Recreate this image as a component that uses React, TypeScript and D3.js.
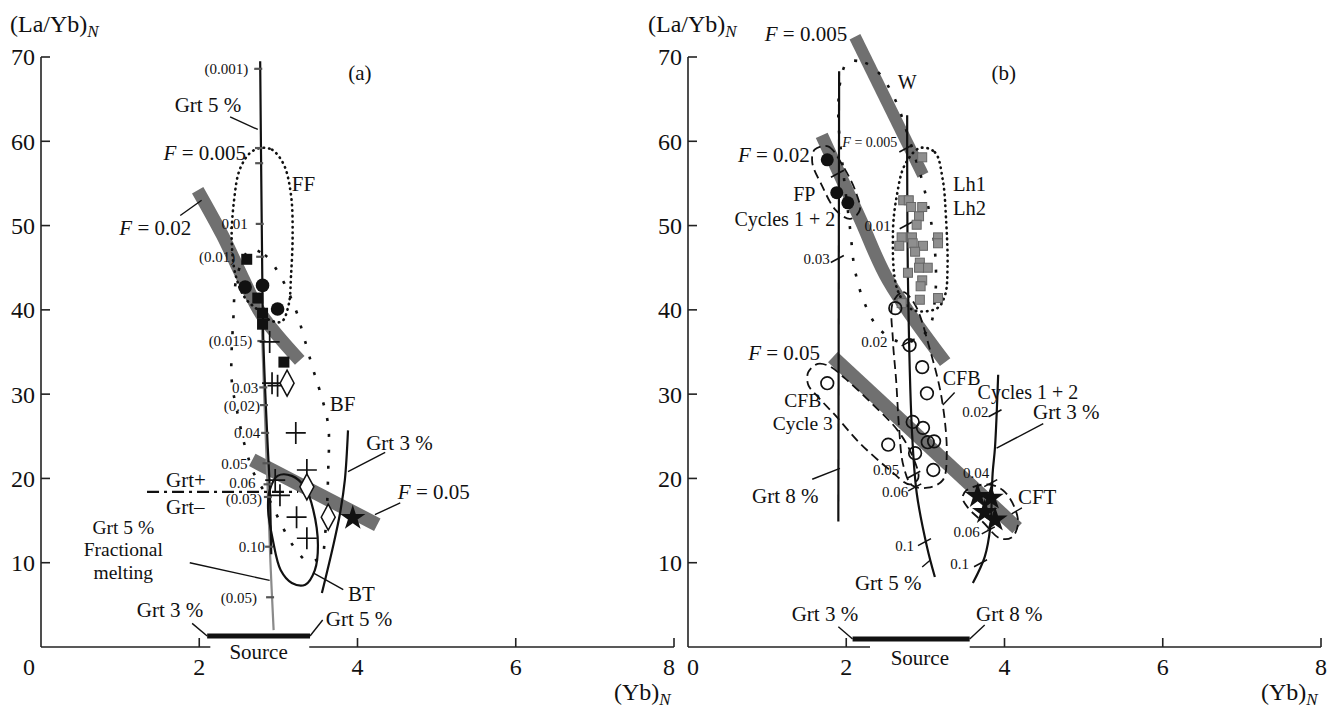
import React from 'react';
import * as d3 from 'd3';

type P = [number, number];
type Tick = { y: number; label: string; dx?: number; dy?: number; big?: boolean; italicF?: boolean; small?: boolean };
type Ann = { x: number; y: number; t: string; a?: 'start' | 'middle' | 'end'; s?: number; f?: boolean };

// ---------------- Panel (a) data ----------------
const aGrt5Batch: P[] = [[2.77, 69.5], [2.79, 50], [2.81, 36.4], [2.86, 24.9], [2.89, 19.0], [2.91, 11.0]];
const aGrt5Fractional: P[] = [[2.78, 41], [2.82, 30], [2.86, 20], [2.9, 10], [2.94, 2]];
const aGrt3: P[] = [[3.88, 25.7], [3.84, 19.8], [3.78, 15.9], [3.69, 11.9], [3.55, 6.4]];
const aBandF002: P[] = [[1.98, 54.2], [2.29, 48.9], [2.55, 43.8], [2.79, 39.4], [3.27, 34.0]];
const aBandF005: P[] = [[2.67, 22.2], [4.25, 14.5]];
const aGrtBoundary: P[] = [[1.34, 18.4], [3.25, 18.4]];
const aFF: P[] = [[2.77, 59.2], [2.92, 59.0], [3.07, 57.2], [3.16, 53.6], [3.18, 48.9], [3.16, 44.1], [3.13, 40.6], [3.04, 38.6], [2.89, 38.8], [2.74, 40.0], [2.58, 41.4], [2.46, 44.1], [2.41, 48.3], [2.44, 53.0], [2.51, 56.6], [2.64, 58.6]];
const aBF: P[] = [[2.64, 47.1], [2.83, 46.5], [3.02, 44.1], [3.22, 40.0], [3.31, 37.2], [3.44, 32.9], [3.52, 30.5], [3.63, 26.3], [3.63, 21.0], [3.59, 13.3], [3.54, 10.7], [3.37, 10.2], [3.21, 11.7], [3.06, 14.1], [2.89, 17.4], [2.7, 20.4], [2.59, 23.4], [2.48, 27.9], [2.41, 31.7], [2.43, 38.8], [2.48, 44.1]];
const aBT: P[] = [[2.89, 18.6], [2.99, 20.3], [3.17, 20.3], [3.34, 18.9], [3.44, 16.3], [3.5, 12.1], [3.46, 9.1], [3.34, 7.4], [3.17, 7.6], [3.03, 9.1], [2.93, 12.7], [2.87, 16.3]];
const aFilledCircles: P[] = [[2.58, 42.7], [2.8, 42.9], [2.99, 40.1]];
const aFilledSquares: P[] = [[2.6, 46.0], [2.74, 41.4], [2.8, 39.6], [2.8, 38.3], [3.07, 33.8]];
const aPlus: P[] = [[2.89, 36.2], [2.92, 31.3], [2.99, 31.0], [3.22, 25.4], [3.36, 21.0], [2.96, 19.8], [3.02, 18.0], [3.23, 15.4], [3.36, 12.9]];
const aDiamonds: P[] = [[3.11, 31.3], [3.36, 19.0], [3.63, 15.4]];
const aStars: P[] = [[3.94, 15.3]];
const aSource: P[] = [[2.1, 1.3], [3.4, 1.3]];
const aSourceGap: P = [2.14, 3.39];
const aBatchTicks: Tick[] = [
  { y: 68.6, label: '(0.001)', dx: -12 },
  { y: 59.2, label: 'F = 0.005', dx: -15, dy: 5, big: true, italicF: true },
  { y: 57.4, label: '' },
  { y: 50.2, label: '0.01', dx: -14 },
  { y: 46.3, label: '(0.01)', dx: -27 },
  { y: 36.3, label: '(0.015)', dx: -11 },
  { y: 30.8, label: '0.03', dx: -7 },
  { y: 28.7, label: '(0.02)', dx: -6, dy: 1 },
  { y: 25.4, label: '0.04', dx: -7 },
  { y: 21.8, label: '0.05', dx: -21 },
  { y: 19.3, label: '0.06', dx: -14, dy: -1.5 },
  { y: 17.8, label: '(0.03)', dx: -8, dy: 1.5 },
  { y: 11.9, label: '0.10', dx: -6 },
];
const aFracTicks: Tick[] = [{ y: 5.9, label: '(0.05)', dx: -15 }];
const aAnnotations: Ann[] = [
  { x: 4.03, y: 68.2, t: '(a)', a: 'middle' },
  { x: 2.11, y: 64.3, t: 'Grt 5 %', a: 'middle' },
  { x: 3.17, y: 55.0, t: 'FF' },
  { x: 0.99, y: 49.7, t: 'F = 0.02', f: true },
  { x: 3.65, y: 28.9, t: 'BF' },
  { x: 4.11, y: 24.2, t: 'Grt 3 %' },
  { x: 4.51, y: 18.4, t: 'F = 0.05', f: true },
  { x: 1.58, y: 19.9, t: 'Grt+' },
  { x: 1.58, y: 16.6, t: 'Grt–' },
  { x: 1.04, y: 14.2, t: 'Grt 5 %', a: 'middle', s: 19.5 },
  { x: 1.04, y: 11.55, t: 'Fractional', a: 'middle', s: 19.5 },
  { x: 1.04, y: 8.9, t: 'melting', a: 'middle', s: 19.5 },
  { x: 3.88, y: 6.3, t: 'BT' },
  { x: 1.63, y: 4.4, t: 'Grt 3 %', a: 'middle' },
  { x: 3.6, y: 3.4, t: 'Grt 5 %' },
  { x: 2.75, y: -0.6, t: 'Source', a: 'middle' },
];
const aLeaders: P[][] = [
  [[2.39, 62.9], [2.74, 61.4]],
  [[1.76, 51.2], [2.03, 53.0]],
  [[3.88, 20.8], [4.35, 23.1]],
  [[4.22, 15.7], [4.54, 17.1]],
  [[1.88, 10.0], [2.89, 7.9]],
  [[3.44, 8.8], [3.82, 6.8]],
  [[1.91, 2.8], [2.1, 1.3]],
  [[3.4, 1.3], [3.56, 3.2]],
];

// ---------------- Panel (b) data ----------------
const bGrt8: P[] = [[1.91, 68.3], [1.9, 14.9]];
const bGrt5: P[] = [[2.77, 63.1], [2.78, 43.5], [2.83, 25.7], [2.89, 18.3], [3.02, 11.9], [3.12, 8.3]];
const bGrt3: P[] = [[3.92, 32.3], [3.88, 23.7], [3.85, 20.6], [3.82, 14.2], [3.75, 10.7], [3.6, 7.6]];
const bBandF0005: P[] = [[2.11, 72.4], [2.97, 56.0]];
const bBandF002: P[] = [[1.69, 60.7], [2.17, 50.9], [2.53, 43.5], [3.25, 33.8]];
const bBandF005: P[] = [[1.83, 34.4], [4.16, 14.1]];
const bW: P[] = [[2.02, 69.4], [2.24, 69.3], [2.43, 67.9], [2.62, 64.9], [2.8, 60.1], [2.99, 54.2], [3.12, 47.1], [3.12, 41.2], [3.03, 37.6], [2.74, 36.1], [2.43, 37.6], [2.24, 40.6], [2.11, 44.7], [2.05, 49.5], [1.96, 56.6], [1.9, 62.9], [1.93, 67.3]];
const bLh: P[] = [[2.93, 59.2], [3.12, 58.7], [3.22, 55.4], [3.26, 51.0], [3.28, 45.1], [3.25, 41.8], [3.15, 40.2], [2.84, 40.0], [2.65, 42.3], [2.59, 49.1], [2.64, 53.6], [2.74, 57.2]];
const bFP: P[] = [[1.6, 59.0], [1.77, 59.4], [1.95, 57.2], [2.12, 54.0], [2.17, 51.8], [2.05, 50.8], [1.87, 51.8], [1.69, 54.8], [1.57, 57.5]];
const bCFBCycle3: P[] = [[1.52, 32.6], [1.64, 33.6], [1.79, 33.3], [1.98, 31.9], [2.3, 29.1], [2.65, 25.7], [2.83, 22.8], [2.91, 20.0], [2.8, 19.3], [2.55, 21.0], [2.17, 24.2], [1.86, 27.5], [1.64, 29.7], [1.52, 31.1]];
const bCFBCycles12: P[] = [[2.59, 40.9], [2.72, 42.1], [2.87, 40.6], [3.06, 35.2], [3.21, 29.3], [3.27, 22.8], [3.22, 19.8], [3.03, 18.9], [2.83, 19.2], [2.72, 21.6], [2.67, 25.7], [2.63, 31.7], [2.59, 36.4]];
const bCFT: P[] = [[3.52, 18.6], [3.78, 19.3], [3.98, 18.6], [4.13, 16.5], [4.17, 14.5], [4.09, 13.0], [3.94, 12.9], [3.73, 14.8], [3.54, 16.5], [3.47, 17.7]];
const bFilledCircles: P[] = [[1.76, 57.8], [1.88, 53.9], [2.02, 52.7]];
const bOpenCircles: P[] = [[2.62, 40.2], [2.8, 35.8], [2.96, 33.2], [3.02, 30.1], [2.84, 26.7], [2.97, 26.0], [3.03, 24.3], [3.11, 24.4], [2.87, 23.0], [3.1, 21.0], [2.53, 24.0], [1.76, 31.3]];
const bGreySquares: P[] = [[2.96, 58.1], [2.72, 53.0], [2.79, 53.0], [2.82, 52.2], [2.96, 52.2], [2.92, 51.1], [2.89, 50.1], [2.7, 48.6], [2.83, 48.6], [2.67, 47.6], [2.84, 47.9], [2.97, 47.6], [2.87, 46.9], [3.16, 48.6], [3.16, 47.9], [2.93, 45.6], [3.03, 45.0], [2.92, 45.0], [2.78, 44.4], [2.96, 43.5], [2.94, 42.8], [2.93, 41.2], [3.16, 41.4], [2.7, 40.8]];
const bStars: P[] = [[3.66, 17.9], [3.83, 17.7], [3.75, 16.0], [3.88, 15.1]];
const bSource: P[] = [[2.08, 0.95], [3.56, 0.95]];
const bSourceGap: P = [2.3, 3.56];
const bGrt8Ticks: Tick[] = [{ y: 56.2, label: '' }, { y: 46.1, label: '0.03', dx: -9 }];
const bGrt5Ticks: Tick[] = [
  { y: 59.2, label: 'F = 0.005', dx: -10, dy: -6, italicF: true, small: true },
  { y: 50.1, label: '0.01', dx: -17, dy: 1 },
  { y: 36.2, label: '0.02', dx: -22 },
  { y: 20.5, label: '0.05', dx: -16, dy: -4 },
  { y: 19.0, label: '0.06', dx: -8, dy: 5 },
  { y: 12.5, label: '0.1', dx: -12, dy: 4 },
];
const bGrt3Ticks: Tick[] = [
  { y: 27.8, label: '0.02', dx: -8, dy: -1 },
  { y: 19.5, label: '0.04', dx: -3, dy: -10 },
  { y: 13.9, label: '0.06', dx: -10, dy: 2 },
  { y: 10.0, label: '0.1', dx: -13, dy: 1 },
];
const bAnnotations: Ann[] = [
  { x: 0.97, y: 72.8, t: 'F = 0.005', f: true },
  { x: 3.99, y: 68.2, t: '(b)', a: 'middle' },
  { x: 2.65, y: 67.0, t: 'W', s: 20 },
  { x: 1.54, y: 58.4, t: 'F = 0.02', a: 'end', f: true },
  { x: 3.35, y: 54.9, t: 'Lh1', s: 20.5 },
  { x: 3.35, y: 52.1, t: 'Lh2', s: 20.5 },
  { x: 1.33, y: 53.7, t: 'FP', s: 20 },
  { x: 1.86, y: 50.8, t: 'Cycles 1 + 2', a: 'end', s: 20 },
  { x: 0.76, y: 34.9, t: 'F = 0.05', f: true },
  { x: 1.45, y: 29.3, t: 'CFB', a: 'middle', s: 19.5 },
  { x: 1.45, y: 26.6, t: 'Cycle 3', a: 'middle', s: 19.5 },
  { x: 3.22, y: 31.9, t: 'CFB', s: 20 },
  { x: 3.66, y: 30.3, t: 'Cycles 1 + 2', s: 20 },
  { x: 4.36, y: 27.9, t: 'Grt 3 %' },
  { x: 4.17, y: 17.8, t: 'CFT' },
  { x: 0.81, y: 18.0, t: 'Grt 8 %' },
  { x: 2.11, y: 7.6, t: 'Grt 5 %' },
  { x: 1.31, y: 4.0, t: 'Grt 3 %' },
  { x: 3.64, y: 4.0, t: 'Grt 8 %' },
  { x: 2.93, y: -1.3, t: 'Source', a: 'middle' },
];
const bLeaders: P[][] = [
  [[1.57, 19.9], [1.92, 21.2]],
  [[3.22, 28.7], [3.37, 30.2]],
  [[3.9, 23.6], [4.49, 26.5]],
  [[4.09, 15.8], [4.22, 16.5]],
  [[2.96, 9.5], [3.06, 10.3]],
  [[1.9, 2.4], [2.08, 0.95]],
  [[3.56, 0.95], [3.75, 2.6]],
];

const yTicks = [10, 20, 30, 40, 50, 60, 70];
const xTicks = [0, 2, 4, 6, 8];

// ---------------- rendering ----------------
const FONT = '"Liberation Serif", "Times New Roman", Times, serif';
const INK = '#111';
const BAND = '#707070';

const yS = d3.scaleLinear().domain([0, 70]).range([647, 57]);
const xA = d3.scaleLinear().domain([0, 8]).range([41, 674]);
const xB = d3.scaleLinear().domain([0, 8]).range([688, 1321]);

type S = d3.ScaleLinear<number, number>;

function xAt(curve: P[], yv: number): number {
  for (let i = 0; i < curve.length - 1; i++) {
    const [x0, y0] = curve[i];
    const [x1, y1] = curve[i + 1];
    if (yv >= Math.min(y0, y1) && yv <= Math.max(y0, y1)) {
      const t = (yv - y0) / (y1 - y0);
      return x0 + t * (x1 - x0);
    }
  }
  return curve[curve.length - 1][0];
}

function Txt({ x, y, t, a = 'start', s = 21, f = false, dy = 0 }: { x: number; y: number; t: string; a?: string; s?: number; f?: boolean; dy?: number }) {
  return (
    <text x={x} y={y + dy} dy="0.35em" textAnchor={a as any} fontSize={s} fontFamily={FONT} fill={INK}>
      {f ? (
        <>
          <tspan fontStyle="italic">F</tspan>
          {t.slice(1)}
        </>
      ) : (
        t
      )}
    </text>
  );
}

function Axes({ xs, zeroDx, eightDx, titleX }: { xs: S; zeroDx: number; eightDx: number; titleX: number }) {
  const x0 = xs(0);
  const y0 = yS(0);
  return (
    <g>
      <line x1={x0} x2={x0} y1={yS(70)} y2={y0} stroke="#222" strokeWidth={1.6} />
      <line x1={x0} x2={xs(8)} y1={y0} y2={y0} stroke="#222" strokeWidth={1.6} />
      {yTicks.map((v) => (
        <g key={'y' + v}>
          <line x1={x0} x2={x0 + 9} y1={yS(v)} y2={yS(v)} stroke="#222" strokeWidth={1.6} />
          <text x={x0 - 6} y={yS(v)} dy="0.35em" textAnchor="end" fontSize={24} fontFamily={FONT} fill={INK}>
            {v}
          </text>
        </g>
      ))}
      {xTicks.map((v) => (
        <g key={'x' + v}>
          {v > 0 && <line x1={xs(v)} x2={xs(v)} y1={y0} y2={y0 - 9} stroke="#222" strokeWidth={1.6} />}
          <text
            x={xs(v) + (v === 0 ? zeroDx : v === 8 ? eightDx : 0)}
            y={y0 + 20}
            dy="0.35em"
            textAnchor="middle"
            fontSize={24}
            fontFamily={FONT}
            fill={INK}
          >
            {v}
          </text>
        </g>
      ))}
      <text x={titleX} y={32} fontSize={24} fontFamily={FONT} fill={INK}>
        (La/Yb)
        <tspan fontStyle="italic" fontSize={17} dy={5}>N</tspan>
      </text>
      <text x={xs(8) - 60} y={700} fontSize={24} fontFamily={FONT} fill={INK}>
        (Yb)
        <tspan fontStyle="italic" fontSize={17} dy={5}>N</tspan>
      </text>
    </g>
  );
}

function Panel(props: {
  xs: S;
  bands: P[][];
  bandWidths: number[];
  solid: P[][];
  grey: P[][];
  dashDot: P[][];
  dense: P[][];
  sparse: P[][];
  dashed: P[][];
  closedSolid: P[][];
  ticks: { curve: P[]; list: Tick[]; slant: boolean }[];
  source: P[];
  gap: P;
  leaders: P[][];
  anns: Ann[];
  markers: React.ReactNode;
}) {
  const { xs } = props;
  const lin = d3.line<P>().x((d) => xs(d[0])).y((d) => yS(d[1]));
  const smooth = d3.line<P>().x((d) => xs(d[0])).y((d) => yS(d[1])).curve(d3.curveCatmullRom.alpha(0.5));
  const closed = d3.line<P>().x((d) => xs(d[0])).y((d) => yS(d[1])).curve(d3.curveCatmullRomClosed.alpha(0.5));
  const y0 = yS(0);
  return (
    <g>
      {props.bands.map((b, i) => (
        <path key={'band' + i} d={smooth(b) || ''} stroke={BAND} strokeWidth={props.bandWidths[i]} fill="none" strokeLinejoin="round" />
      ))}
      {props.grey.map((c, i) => (
        <path key={'grey' + i} d={smooth(c) || ''} stroke="#8a8a8a" strokeWidth={2.2} fill="none" />
      ))}
      {props.solid.map((c, i) => (
        <path key={'sol' + i} d={smooth(c) || ''} stroke={INK} strokeWidth={2.2} fill="none" />
      ))}
      {props.dashDot.map((c, i) => (
        <path key={'dd' + i} d={lin(c) || ''} stroke={INK} strokeWidth={2.2} fill="none" strokeDasharray="12 5 3 5" />
      ))}
      {props.closedSolid.map((c, i) => (
        <path key={'cs' + i} d={closed(c) || ''} stroke={INK} strokeWidth={2.2} fill="none" />
      ))}
      {props.dense.map((c, i) => (
        <path key={'den' + i} d={closed(c) || ''} stroke={INK} strokeWidth={2.6} fill="none" strokeDasharray="0.5 5" strokeLinecap="round" />
      ))}
      {props.sparse.map((c, i) => (
        <path key={'sp' + i} d={closed(c) || ''} stroke={INK} strokeWidth={2.6} fill="none" strokeDasharray="3 13" />
      ))}
      {props.dashed.map((c, i) => (
        <path key={'da' + i} d={closed(c) || ''} stroke={INK} strokeWidth={1.8} fill="none" strokeDasharray="9 5" />
      ))}
      {props.ticks.map((tc, i) =>
        tc.list.map((t, j) => {
          const px = xs(xAt(tc.curve, t.y));
          const py = yS(t.y);
          return (
            <g key={'tk' + i + '_' + j}>
              {tc.slant ? (
                <line x1={px - 8} y1={py + 4} x2={px + 5} y2={py - 3} stroke={INK} strokeWidth={1.6} />
              ) : (
                <line x1={px - 6} y1={py} x2={px + 2} y2={py} stroke="#555" strokeWidth={2.2} />
              )}
              {t.label && (
                <Txt
                  x={px + (t.dx ?? -10)}
                  y={py}
                  dy={t.dy ?? 0}
                  t={t.label}
                  a="end"
                  s={t.big ? 21 : t.small ? 14 : 15}
                  f={t.italicF}
                />
              )}
            </g>
          );
        })
      )}
      <rect x={xs(props.gap[0])} y={y0 - 3} width={xs(props.gap[1]) - xs(props.gap[0])} height={7} fill="white" />
      <path d={lin(props.source) || ''} stroke={INK} strokeWidth={5} fill="none" />
      {props.leaders.map((l, i) => (
        <path key={'ld' + i} d={lin(l) || ''} stroke={INK} strokeWidth={1.4} fill="none" />
      ))}
      {props.markers}
      {props.anns.map((a, i) => (
        <Txt key={'an' + i} x={xs(a.x)} y={yS(a.y)} t={a.t} a={a.a} s={a.s} f={a.f} />
      ))}
    </g>
  );
}

const starPath = d3.symbol().type(d3.symbolStar).size(200)() || '';

function MarkersA({ xs }: { xs: S }) {
  return (
    <g>
      {aFilledCircles.map((d, i) => (
        <circle key={'c' + i} cx={xs(d[0])} cy={yS(d[1])} r={6.8} fill={INK} />
      ))}
      {aFilledSquares.map((d, i) => (
        <rect key={'s' + i} x={xs(d[0]) - 5.5} y={yS(d[1]) - 5.5} width={11} height={11} fill={INK} />
      ))}
      {aPlus.map((d, i) => {
        const x = xs(d[0]);
        const y = yS(d[1]);
        return <path key={'p' + i} d={`M${x - 10},${y}H${x + 10}M${x},${y - 11}V${y + 11}`} stroke={INK} strokeWidth={1.7} fill="none" />;
      })}
      {aDiamonds.map((d, i) => {
        const x = xs(d[0]);
        const y = yS(d[1]);
        return <path key={'d' + i} d={`M${x},${y - 13}L${x + 7},${y}L${x},${y + 13}L${x - 7},${y}Z`} stroke={INK} strokeWidth={1.5} fill="white" />;
      })}
      {aStars.map((d, i) => (
        <path key={'st' + i} d={starPath} transform={`translate(${xs(d[0])},${yS(d[1])})`} fill={INK} />
      ))}
    </g>
  );
}

function MarkersB({ xs }: { xs: S }) {
  return (
    <g>
      {bGreySquares.map((d, i) => (
        <rect key={'g' + i} x={xs(d[0]) - 4.5} y={yS(d[1]) - 4.5} width={9} height={9} fill="#8f8f8f" stroke="#666" strokeWidth={1} />
      ))}
      {bFilledCircles.map((d, i) => (
        <circle key={'c' + i} cx={xs(d[0])} cy={yS(d[1])} r={6.5} fill={INK} />
      ))}
      {bOpenCircles.map((d, i) => (
        <circle key={'o' + i} cx={xs(d[0])} cy={yS(d[1])} r={6.3} fill="none" stroke={INK} strokeWidth={1.7} />
      ))}
      {bStars.map((d, i) => (
        <path key={'st' + i} d={starPath} transform={`translate(${xs(d[0])},${yS(d[1])})`} fill={INK} />
      ))}
    </g>
  );
}

export default function App() {
  return (
    <svg width={1336} height={709} style={{ position: 'absolute', left: 0, top: 0, background: 'white' }}>
      <rect width={1336} height={709} fill="white" />
      <Axes xs={xA} zeroDx={-12} eightDx={-5} titleX={10} />
      <Axes xs={xB} zeroDx={5} eightDx={0} titleX={648} />
      <Panel
        xs={xA}
        bands={[aBandF002, aBandF005]}
        bandWidths={[13, 14]}
        solid={[aGrt5Batch, aGrt3]}
        grey={[aGrt5Fractional]}
        dashDot={[aGrtBoundary]}
        dense={[aFF]}
        sparse={[aBF]}
        dashed={[]}
        closedSolid={[aBT]}
        ticks={[
          { curve: aGrt5Batch, list: aBatchTicks, slant: false },
          { curve: aGrt5Fractional, list: aFracTicks, slant: false },
        ]}
        source={aSource}
        gap={aSourceGap}
        leaders={aLeaders}
        anns={aAnnotations}
        markers={<MarkersA xs={xA} />}
      />
      <Panel
        xs={xB}
        bands={[bBandF0005, bBandF002, bBandF005]}
        bandWidths={[12, 13, 14]}
        solid={[bGrt8, bGrt5, bGrt3]}
        grey={[]}
        dashDot={[]}
        dense={[bLh]}
        sparse={[bW]}
        dashed={[bFP, bCFBCycle3, bCFBCycles12, bCFT]}
        closedSolid={[]}
        ticks={[
          { curve: bGrt8, list: bGrt8Ticks, slant: true },
          { curve: bGrt5, list: bGrt5Ticks, slant: true },
          { curve: bGrt3, list: bGrt3Ticks, slant: true },
        ]}
        source={bSource}
        gap={bSourceGap}
        leaders={bLeaders}
        anns={bAnnotations}
        markers={<MarkersB xs={xB} />}
      />
    </svg>
  );
}
